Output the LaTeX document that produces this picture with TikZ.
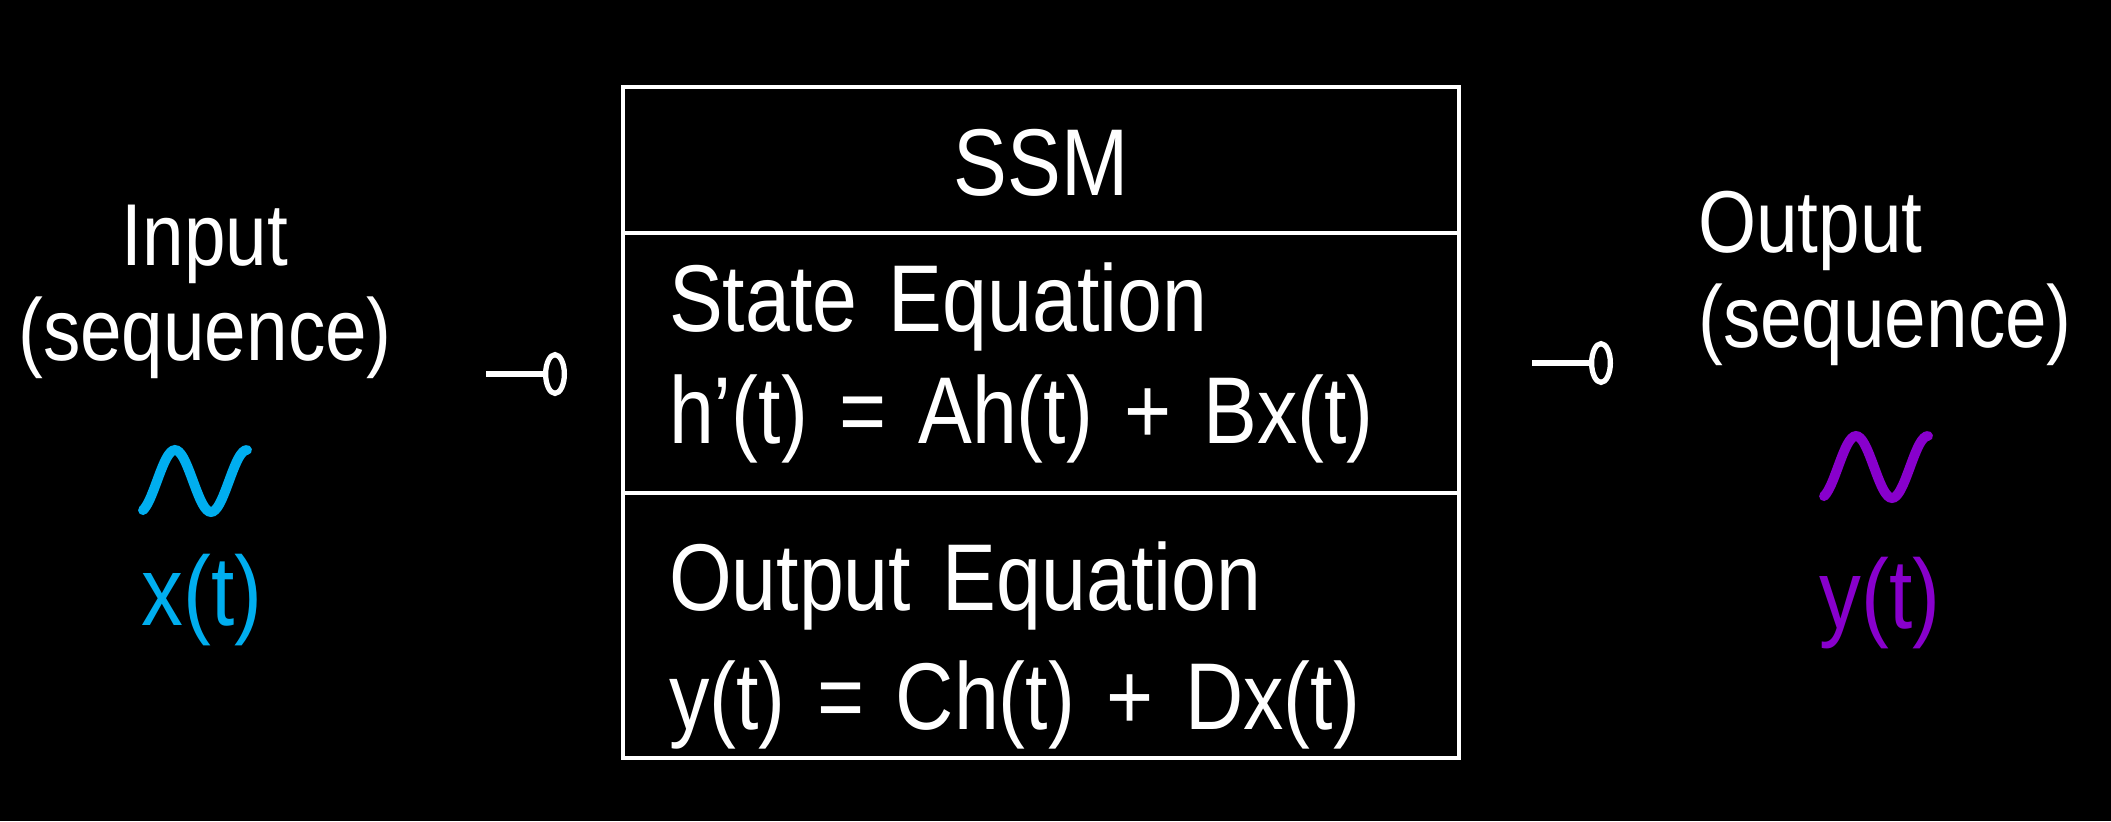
\documentclass[tikz,border=0pt]{standalone}
\usepackage{fontspec}
\setmainfont[FakeStretch=0.85]{Liberation Sans}
\usepackage{tikz}
\usetikzlibrary{arrows.meta,positioning}
\definecolor{inblue}{RGB}{0,174,239}
\definecolor{outpurple}{RGB}{136,0,204}

\begin{document}
\begin{tikzpicture}[
      x=0.1mm, y=-0.1mm,
      font=\fontsize{27}{32}\selectfont,
      every node/.style={text=white},
      part/.style={draw=white, line width=1.2pt, minimum width=83.6mm, inner sep=0pt, outer sep=0pt},
      eqn/.style={part, text width=74.4mm, inner xsep=4.6mm, align=left},
      side/.style={font=\fontsize{25}{27}\selectfont},
      sig/.style={font=\fontsize{28}{32}\selectfont},
      ar/.style={draw=white, line width=1.5pt, -{Ellipse[open, length=2.4mm, width=4.4mm]}},
      wave/.pic={\draw[line width=2.8pt, line cap=round] plot[domain=-70:450, samples=50, smooth] ({\x*0.2}, {-sin(\x)*31});}]
    \fill[black] (0,0) rectangle (2111,821);
    % the model box
    \node[part, minimum height=14.6mm, text depth=0pt, text height=7mm] (ssm) at (1041,160) {SSM};
    \node[eqn, minimum height=26mm, below=0pt of ssm] (state) {State Equation\\h'(t) = Ah(t) + Bx(t)};
    \node[eqn, minimum height=26.5mm, below=0pt of state] (outeq) {\rule{0pt}{31pt}Output Equation\\[2pt]y(t) = Ch(t) + Dx(t)};
    % input side
    \node[side, align=center] (input) at (205,292) {Input\\(sequence)};
    \pic[color=inblue] at (157,481) {wave};
    \node[sig, text=inblue] (xin) at (202,600) {x(t)};
    % output side
    \node[side, align=left] (output) at (1885,278) {Output\\(sequence)};
    \pic[color=outpurple] at (1838,467) {wave};
    \node[sig, text=outpurple] (yout) at (1880,603) {y(t)};
    \coordinate (inarr) at (486,374);
    \coordinate (outarr) at (1613,363);
    \draw[ar] (inarr) -- ([xshift=-5.6mm]inarr -| state.west);
    \draw[ar] ([xshift=7.3mm]outarr -| state.east) -- (outarr);
  \end{tikzpicture}
\end{document}
